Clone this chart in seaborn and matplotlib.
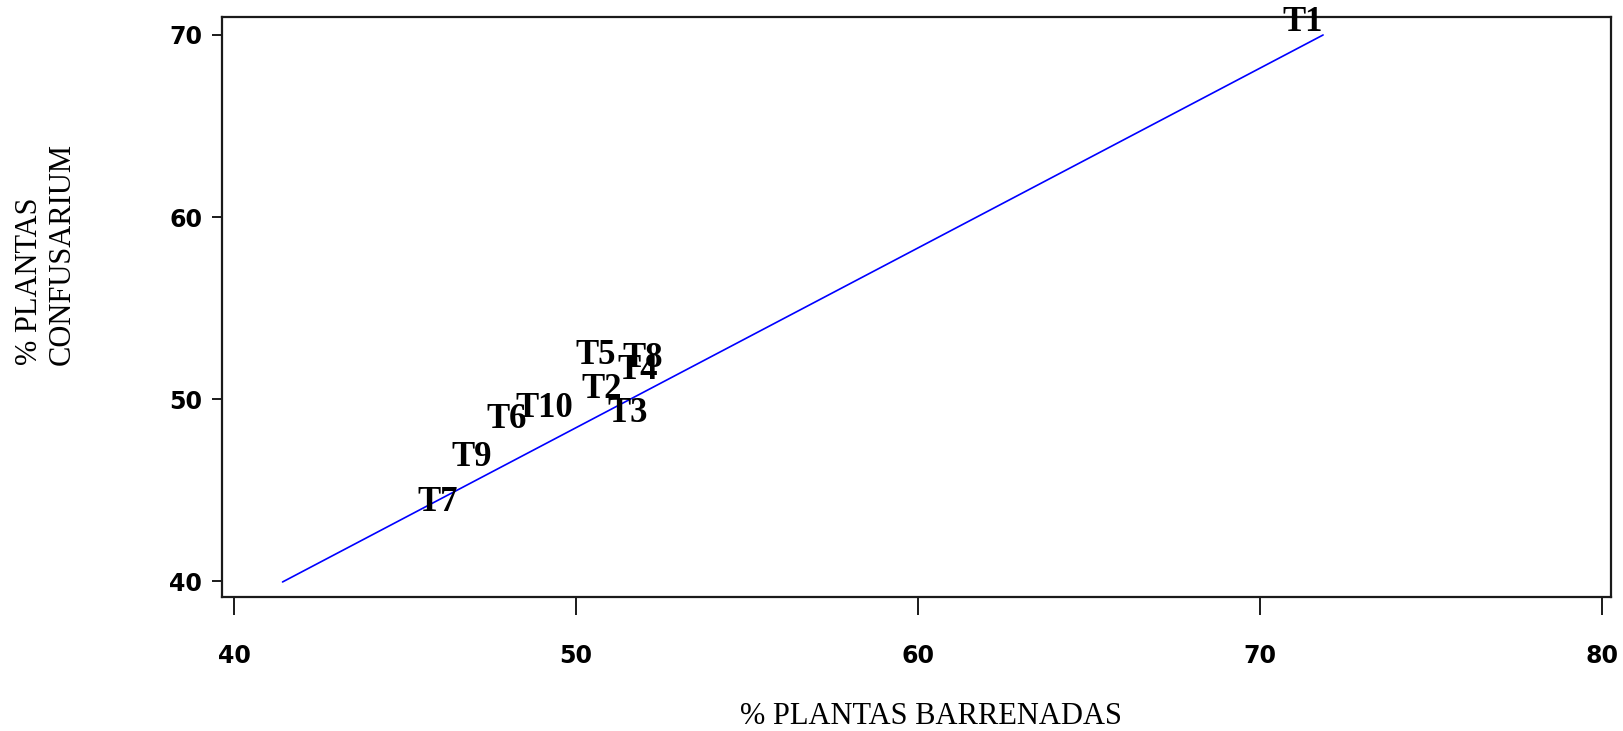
import matplotlib
matplotlib.use("Agg")
import matplotlib.pyplot as plt
import pandas as pd
import seaborn as sns

# treatment labels and their positions (% barrenadas, % confusarium)
treatments = ["T1", "T2", "T3", "T4", "T5", "T6", "T7", "T8", "T9", "T10"]
barrenadas = [71.24, 50.75, 51.51, 51.82, 50.58, 47.96, 45.95, 51.96, 46.95, 49.07]
confusarium = [70.71, 50.55, 49.21, 51.59, 52.40, 48.90, 44.32, 52.20, 46.80, 49.49]

# fitted line end points
fit_x = [41.42, 71.85]
fit_y = [39.95, 70.0]

x_ticks = [40, 50, 60, 70, 80]
y_ticks = [40, 50, 60, 70]

df = pd.DataFrame({"label": treatments, "x": barrenadas, "y": confusarium})
fit = pd.DataFrame({"x": fit_x, "y": fit_y})

sns.set_style("ticks")
plt.rcParams["font.family"] = ["DejaVu Sans"]

fig = plt.figure(figsize=(16.24, 7.31), dpi=100)
ax = fig.add_axes([0.1365, 0.1837, 0.8555, 0.7926])

sns.lineplot(data=fit, x="x", y="y", ax=ax, color="#0000ff", linewidth=1.2)

for _, row in df.iterrows():
    ax.text(row.x, row.y, row.label, ha="center", va="center",
            fontsize=25, fontweight="bold", family="Liberation Serif",
            color="black", clip_on=False)

ax.set_xlim(39.64, 80.27)
ax.set_ylim(39.14, 70.97)
ax.set_xticks(x_ticks)
ax.set_yticks(y_ticks)
ax.set_xlabel("")
ax.set_ylabel("")

for side in ["left", "right", "top", "bottom"]:
    ax.spines[side].set_color("#1a1a1a")
    ax.spines[side].set_linewidth(1.6)

ax.tick_params(axis="x", direction="out", length=13, width=1.4, pad=21,
               color="#1a1a1a", labelcolor="black", labelsize=17)
ax.tick_params(axis="y", direction="out", length=7, width=1.4, pad=7,
               color="#1a1a1a", labelcolor="black", labelsize=17)
for lbl in ax.get_xticklabels() + ax.get_yticklabels():
    lbl.set_fontweight("bold")

fig.text(931 / 1624, 1 - 716 / 731, "% PLANTAS BARRENADAS", ha="center", va="center",
         fontsize=22, family="Liberation Serif", color="black")
fig.text(46 / 1624, 1 - 254 / 731, "% PLANTAS\nCONFUSARIUM", ha="center", va="center",
         rotation=90, multialignment="left", fontsize=22, family="Liberation Serif",
         linespacing=1.15, color="black")

fig.savefig("out.png", dpi=100)
